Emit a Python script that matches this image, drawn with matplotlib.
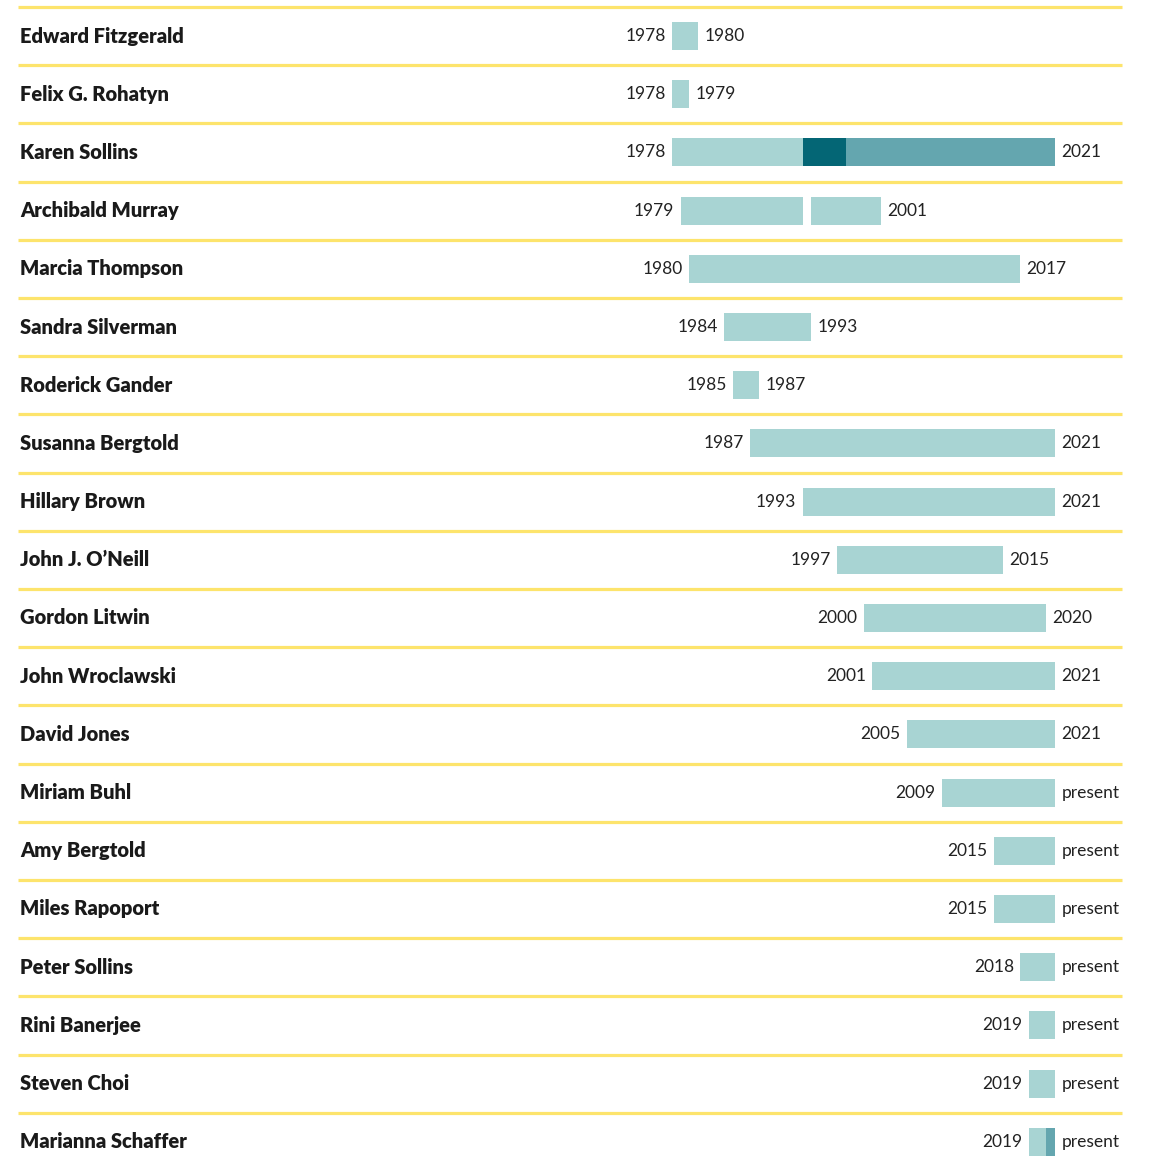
import matplotlib.pyplot as plt
from matplotlib.transforms import blended_transform_factory

names = ['Edward Fitzgerald', 'Felix G. Rohatyn', 'Karen Sollins', 'Archibald Murray',
         'Marcia Thompson', 'Sandra Silverman', 'Roderick Gander', 'Susanna Bergtold',
         'Hillary Brown', 'John J. O\u2019Neill', 'Gordon Litwin', 'John Wroclawski',
         'David Jones', 'Miriam Buhl', 'Amy Bergtold', 'Miles Rapoport',
         'Peter Sollins', 'Rini Banerjee', 'Steven Choi', 'Marianna Schaffer']
start_years = [1978, 1978, 1978, 1979, 1980, 1984, 1985, 1987, 1993, 1997,
               2000, 2001, 2005, 2009, 2015, 2015, 2018, 2019, 2019, 2019]
end_years = [1980, 1979, 2021, 2001, 2017, 1993, 1987, 2021, 2021, 2015,
             2020, 2021, 2021, 2021, 2021, 2021, 2021, 2021, 2021, 2021]
is_present = [False] * 13 + [True] * 7

# rows drawn as several pieces (start, end, shade)
pieces = {
    'Karen Sollins': [(1978, 1992, 'light'), (1993, 1997, 'dark'), (1998, 2021, 'mid')],
    'Archibald Murray': [(1979, 1992, 'light'), (1994, 2001, 'light')],
    'Marianna Schaffer': [(2019, 2020, 'light'), (2021, 2021, 'mid')],
}

shades = {'light': '#a8d4d3', 'mid': '#64a6af', 'dark': '#046675'}
yellow = '#fde46c'
text_col = '#222222'

W, H = 1150, 1167
fig = plt.figure(figsize=(W / 100, H / 100), dpi=100)
ax = fig.add_axes([0, 0, 1, 1])
ax.axis('off')

# map pixels: 1978 -> x=672, one year = 8.705 px
px_year = 8.705
x_left = 1978 - 672 / px_year
ax.set_xlim(x_left, x_left + W / px_year)
row_px = 58.2
y_first = 36
ax.set_ylim((H - y_first) / row_px, -y_first / row_px)

trans = blended_transform_factory(ax.transAxes, ax.transData)

for i, name in enumerate(names):
    ax.plot([18 / W, 1122 / W], [i - 0.5, i - 0.5], transform=trans,
            color=yellow, lw=2.3, solid_capstyle='butt')
    ax.text(20 / W, i, name, transform=trans, ha='left', va='center',
            fontsize=14.5, fontweight='heavy', family='Lato', color='#1a1a1a')

    segs = pieces.get(name, [(start_years[i], end_years[i], 'light')])
    for s, e, shade in segs:
        ax.barh(i, e - s + 1, left=s, height=0.48, color=shades[shade], lw=0)

    ax.annotate(str(start_years[i]), (start_years[i], i), xytext=(-4.5, 0),
                textcoords='offset points', ha='right', va='center',
                fontsize=12.5, family='Lato', color=text_col)
    end_label = 'present' if is_present[i] else str(end_years[i])
    ax.annotate(end_label, (end_years[i] + 1, i), xytext=(4.5, 0),
                textcoords='offset points', ha='left', va='center',
                fontsize=12.5, family='Lato', color=text_col)

fig.savefig('out.png', dpi=100)
